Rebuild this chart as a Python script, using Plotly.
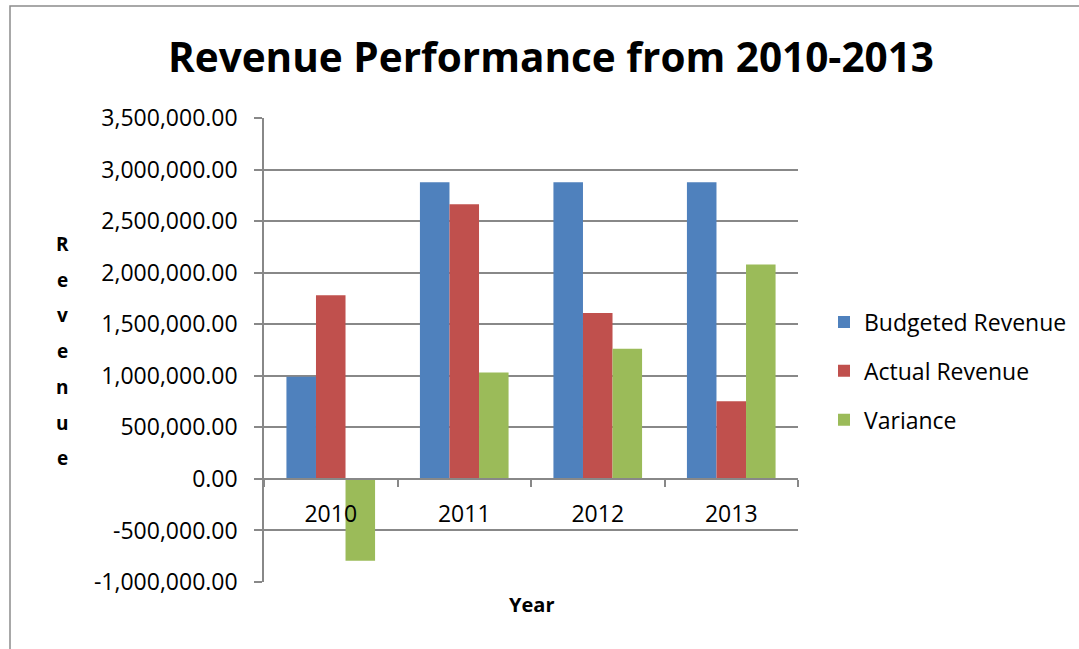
import plotly.graph_objects as go

# Revenue figures per year
years = ["2010", "2011", "2012", "2013"]
budgeted = [990000, 2877000, 2877000, 2877000]
actual = [1780000, 2663000, 1609000, 754000]
variance = [-793000, 1032000, 1262000, 2078000]

series_names = ["Budgeted Revenue", "Actual Revenue", "Variance"]
series_colors = ["#4F81BD", "#C0504D", "#9BBB59"]

y_ticks = [-1000000, -500000, 0, 500000, 1000000, 1500000, 2000000,
           2500000, 3000000, 3500000]
y_tick_text = [f"{v:,.2f}" for v in y_ticks]
y_min, y_max = y_ticks[0], y_ticks[-1]

axis_title_letters = list("Revenue")

W, H = 1079, 649
L, R, T, B = 264, 281, 118, 67
plot_w, plot_h = W - L - R, H - T - B

FONT = "Open Sans"
GRID = "#888888"

fig = go.Figure()
for name, vals, col in zip(series_names, [budgeted, actual, variance], series_colors):
    fig.add_trace(go.Bar(
        x=years, y=vals, name=name, legendgroup=name,
        marker=dict(color=col, line=dict(width=0)),
    ))


def px_x(px):
    return (px - L) / plot_w


def px_y(py):
    return (H - B - py) / plot_h


annotations = []
# vertical stacked axis title
for i, ch in enumerate(axis_title_letters):
    annotations.append(dict(
        text=f"<b>{ch}</b>", x=px_x(62), y=px_y(244 + i * 35.7),
        xref="paper", yref="paper", showarrow=False,
        xanchor="center", yanchor="middle",
        font=dict(family=FONT, size=19, color="#000000"),
    ))
annotations.append(dict(
    text="<b>Year</b>", x=px_x(531), y=px_y(604),
    xref="paper", yref="paper", showarrow=False,
    xanchor="center", yanchor="middle",
    font=dict(family=FONT, size=20, color="#000000"),
))

fig.update_layout(
    width=W, height=H,
    margin=dict(l=L, r=R, t=T, b=B, pad=0, autoexpand=False),
    paper_bgcolor="white", plot_bgcolor="white",
    barmode="group", bargap=0.336, bargroupgap=0,
    title=dict(
        text="<b>Revenue Performance from 2010-2013</b>",
        x=551 / W, y=1 - 58 / H, xref="container", yref="container",
        xanchor="center", yanchor="middle",
        font=dict(family=FONT, size=40.5, color="#000000"),
    ),
    font=dict(family=FONT, color="#000000"),
    legend=dict(
        x=824 / W, y=1 - 371 / H, xref="container", yref="container",
        xanchor="left", yanchor="middle",
        font=dict(family=FONT, size=23, color="#000000"),
        tracegroupgap=16, bgcolor="rgba(0,0,0,0)",
    ),
    annotations=annotations,
    shapes=[dict(
        type="rect", xref="paper", yref="paper",
        x0=px_x(10), x1=px_x(1095), y0=px_y(670), y1=px_y(6),
        line=dict(color="#8c8c8c", width=1.5), layer="below",
    )],
    xaxis=dict(
        anchor="free", position=(0 - y_min) / (y_max - y_min),
        showline=True, linecolor=GRID, linewidth=1.5,
        ticks="outside", tickson="boundaries", ticklen=7, tickwidth=1.5,
        tickcolor=GRID, showgrid=False, ticklabelstandoff=15,
        tickfont=dict(family=FONT, size=23, color="#000000"),
        automargin=False,
    ),
    yaxis=dict(
        range=[y_min, y_max], tickvals=y_ticks, ticktext=y_tick_text,
        showline=True, linecolor=GRID, linewidth=1.5,
        ticks="outside", ticklen=8, tickwidth=1.5, tickcolor=GRID,
        showgrid=True, gridcolor=GRID, gridwidth=1.5, zeroline=False,
        ticklabelstandoff=12,
        tickfont=dict(family=FONT, size=23, color="#000000"),
        automargin=False,
    ),
)

fig.write_html("out.html")
